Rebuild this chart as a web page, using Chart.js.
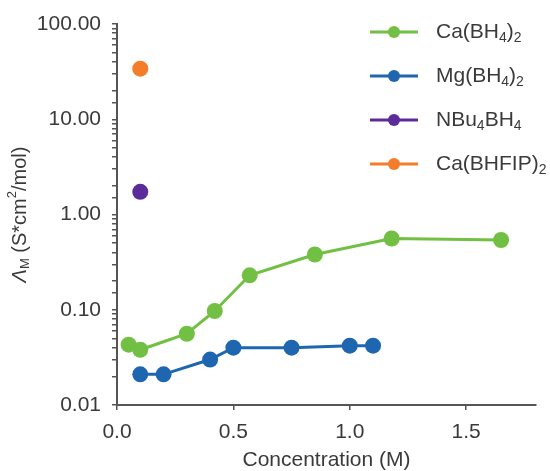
<!DOCTYPE html>
<html>
<head>
<meta charset="utf-8">
<script src="https://cdn.jsdelivr.net/npm/chart.js@4"></script>
<style>
  html, body { margin: 0; padding: 0; background: #fff; }
  #wrap { width: 550px; height: 471px; }
</style>
</head>
<body>
<div id="wrap"><canvas id="chart" width="550" height="471"></canvas></div>
<script>
// Datos
const caConc = [0.05, 0.10, 0.30, 0.42, 0.57, 0.85, 1.18, 1.65];
const caVals = [0.043, 0.038, 0.056, 0.097, 0.23, 0.38, 0.56, 0.54];
const mgConc = [0.10, 0.20, 0.40, 0.50, 0.75, 1.00, 1.10];
const mgVals = [0.021, 0.021, 0.030, 0.040, 0.040, 0.042, 0.042];
const nbuConc = [0.10];
const nbuVals = [1.73];
const cahfipConc = [0.10];
const cahfipVals = [34];
const xTicks = [0, 0.5, 1.0, 1.5];

// Nombres de series: partes normales y subíndices
const seriesNames = [
    [['Ca(BH'], ['4', 'sub'], [')'], ['2', 'sub']],
    [['Mg(BH'], ['4', 'sub'], [')'], ['2', 'sub']],
    [['NBu'], ['4', 'sub'], ['BH'], ['4', 'sub']],
    [['Ca(BHFIP)'], ['2', 'sub']]
];
const colors = ['#72c043', '#1f66b0', '#5b2b9b', '#f47d2b'];

const FONT = "'Liberation Sans', Arial, sans-serif";
const TEXT = '#3a3a3a';
const AXIS = '#555';

function toPoints(xs, ys) {
    return xs.map((x, i) => ({ x: x, y: ys[i] }));
}

// Dibuja texto con subíndices / superíndices
function drawRich(ctx, parts, x, y, size, measureOnly) {
    let cx = x;
    parts.forEach(p => {
        const kind = p[1];
        const small = kind === 'sub' || kind === 'sup';
        const s = small ? Math.round(size * 0.65) : size;
        ctx.font = (kind === 'italic' ? 'italic ' : '') + s + 'px ' + FONT;
        let dy = 0;
        if (kind === 'sub') dy = size * 0.28;
        if (kind === 'sup') dy = -size * 0.38;
        if (!measureOnly) ctx.fillText(p[0], cx, y + dy);
        cx += ctx.measureText(p[0]).width;
    });
    return cx - x;
}

const extrasPlugin = {
    id: 'extras',
    afterDraw(chart) {
        const ctx = chart.ctx;
        ctx.save();
        // leyenda dentro del área
        const rowY = [32, 76, 120, 164];
        seriesNames.forEach((parts, i) => {
            const y = rowY[i];
            ctx.strokeStyle = colors[i];
            ctx.lineWidth = 3;
            ctx.beginPath();
            ctx.moveTo(370, y);
            ctx.lineTo(418, y);
            ctx.stroke();
            ctx.fillStyle = colors[i];
            ctx.beginPath();
            ctx.arc(394, y, 6, 0, Math.PI * 2);
            ctx.fill();
            ctx.fillStyle = TEXT;
            ctx.textBaseline = 'middle';
            ctx.textAlign = 'left';
            drawRich(ctx, parts, 436, y, 21);
        });

        // título del eje Y
        const yParts = [['Λ', 'italic'], ['M', 'sub'], [' (S*cm'], ['2', 'sup'], ['/mol)']];
        const area = chart.chartArea;
        ctx.translate(20, (area.top + area.bottom) / 2);
        ctx.rotate(-Math.PI / 2);
        ctx.fillStyle = TEXT;
        ctx.textBaseline = 'middle';
        const w = drawRich(ctx, yParts, 0, 0, 20, true);
        drawRich(ctx, yParts, -w / 2, 0, 20);
        ctx.restore();
    }
};

function isPow10(v) {
    const l = Math.log10(v);
    return Math.abs(l - Math.round(l)) < 1e-9;
}

const ctx = document.getElementById('chart').getContext('2d');
new Chart(ctx, {
    type: 'scatter',
    data: {
        datasets: [
            { label: 'Ca(BH4)2', data: toPoints(caConc, caVals), showLine: true },
            { label: 'Mg(BH4)2', data: toPoints(mgConc, mgVals), showLine: true },
            { label: 'NBu4BH4', data: toPoints(nbuConc, nbuVals) },
            { label: 'Ca(BHFIP)2', data: toPoints(cahfipConc, cahfipVals) }
        ].map((d, i) => Object.assign(d, {
            borderColor: colors[i],
            backgroundColor: colors[i],
            borderWidth: 3,
            pointRadius: 8,
            pointBorderWidth: 0,
            pointHoverRadius: 8
        }))
    },
    options: {
        responsive: false,
        animation: false,
        devicePixelRatio: 1,
        layout: { padding: { top: 24, right: 14, left: 0, bottom: 0 } },
        plugins: {
            legend: { display: false },
            tooltip: { enabled: false }
        },
        scales: {
            x: {
                type: 'linear',
                min: 0,
                max: 1.8,
                afterBuildTicks: (scale) => {
                    scale.ticks = xTicks.map(v => ({ value: v }));
                },
                afterFit: (scale) => { scale.height = 66; },
                border: { display: true, color: AXIS, width: 2 },
                grid: { drawOnChartArea: false, drawTicks: true, tickLength: 5, color: AXIS, lineWidth: 1.5 },
                ticks: {
                    color: TEXT,
                    padding: 10,
                    font: { family: FONT, size: 21 },
                    callback: (v) => Number(v).toFixed(1)
                },
                title: {
                    display: true,
                    text: 'Concentration (M)',
                    color: TEXT,
                    font: { family: FONT, size: 21 },
                    padding: { top: 0, bottom: -2 }
                }
            },
            y: {
                type: 'logarithmic',
                min: 0.01,
                max: 100,
                afterFit: (scale) => { scale.width = 117; },
                border: { display: true, color: AXIS, width: 2 },
                grid: { drawOnChartArea: false, drawTicks: true, tickLength: 5, color: AXIS, lineWidth: 1.5 },
                ticks: {
                    autoSkip: false,
                    color: TEXT,
                    padding: 11,
                    font: { family: FONT, size: 21 },
                    callback: (v) => isPow10(v) ? Number(v).toFixed(2) : ''
                }
            }
        }
    },
    plugins: [extrasPlugin]
});
</script>
</body>
</html>
